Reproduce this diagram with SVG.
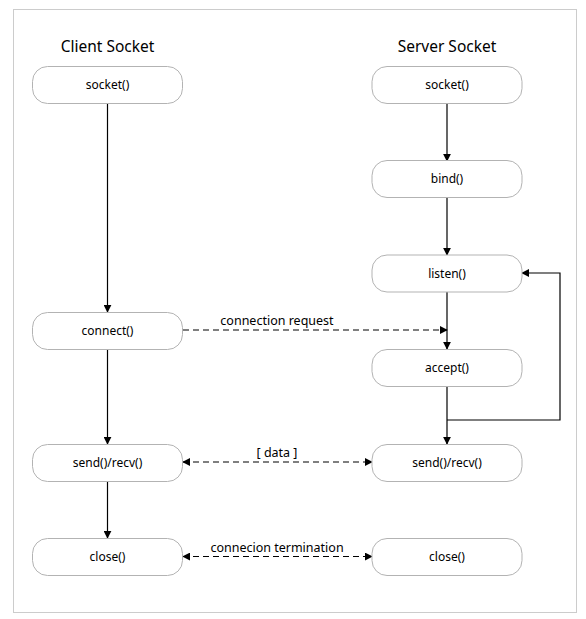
<svg xmlns="http://www.w3.org/2000/svg" width="586" height="619" viewBox="0 0 586 619">
<style>
.n rect{fill:#fff;stroke:#b3b3b3;stroke-width:1}
text{font-family:"Noto Sans","Open Sans",sans-serif;font-size:12px;fill:#000;text-anchor:middle}
.t{font-size:15.5px}
.l{font-size:12.5px}
.c{fill:none;stroke:#000;stroke-width:1.2}
.d{stroke-dasharray:6 4}
</style>
<defs>
<marker id="a" viewBox="0 0 10 10" refX="9" refY="5" markerWidth="8" markerHeight="8" orient="auto-start-reverse" markerUnits="userSpaceOnUse"><path d="M0,0 L10,5 L0,10 z" fill="#000"/></marker>
</defs>
<rect x="13.5" y="9.5" width="563" height="603" fill="#fff" stroke="#cccccc"/>
<text class="t" x="107.5" y="52">Client Socket</text>
<text class="t" x="447" y="52">Server Socket</text>
<g id="connectors">
<path class="c" d="M107.5,103 V312" marker-end="url(#a)"/>
<path class="c" d="M107.5,349 V444" marker-end="url(#a)"/>
<path class="c" d="M107.5,481 V538" marker-end="url(#a)"/>
<path class="c" d="M447,103 V161" marker-end="url(#a)"/>
<path class="c" d="M447,197 V255" marker-end="url(#a)"/>
<path class="c" d="M447,292 V349" marker-end="url(#a)"/>
<path class="c" d="M447,386 V444" marker-end="url(#a)"/>
<path class="c" d="M447,420 H560 V273 H522" marker-end="url(#a)"/>
<path class="c d" d="M183,330 H447" marker-end="url(#a)"/>
<text class="l" x="277" y="325">connection request</text>
<path class="c d" d="M183,462 H372" marker-start="url(#a)" marker-end="url(#a)"/>
<text class="l" x="277" y="457">[ data ]</text>
<path class="c d" d="M183,556.5 H372" marker-start="url(#a)" marker-end="url(#a)"/>
<text class="l" x="277" y="552">connecion termination</text>
</g>
<g id="c_socket" class="n"><rect x="32.5" y="66.5" width="150" height="37" rx="15"/><text x="107.5" y="89">socket()</text></g>
<g id="c_connect" class="n"><rect x="32.5" y="312.5" width="150" height="37" rx="15"/><text x="107.5" y="335">connect()</text></g>
<g id="c_send" class="n"><rect x="32.5" y="444.5" width="150" height="37" rx="15"/><text x="107.5" y="467">send()/recv()</text></g>
<g id="c_close" class="n"><rect x="32.5" y="538.5" width="150" height="37" rx="15"/><text x="107.5" y="561">close()</text></g>
<g id="s_socket" class="n"><rect x="372" y="66.5" width="150" height="37" rx="15"/><text x="447" y="89">socket()</text></g>
<g id="s_bind" class="n"><rect x="372" y="160.5" width="150" height="37" rx="15"/><text x="447" y="183">bind()</text></g>
<g id="s_listen" class="n"><rect x="372" y="255" width="150" height="37" rx="15"/><text x="447" y="277.5">listen()</text></g>
<g id="s_accept" class="n"><rect x="372" y="349.5" width="150" height="37" rx="15"/><text x="447" y="372">accept()</text></g>
<g id="s_send" class="n"><rect x="372" y="444.5" width="150" height="37" rx="15"/><text x="447" y="467">send()/recv()</text></g>
<g id="s_close" class="n"><rect x="372" y="538.5" width="150" height="37" rx="15"/><text x="447" y="561">close()</text></g>
</svg>
